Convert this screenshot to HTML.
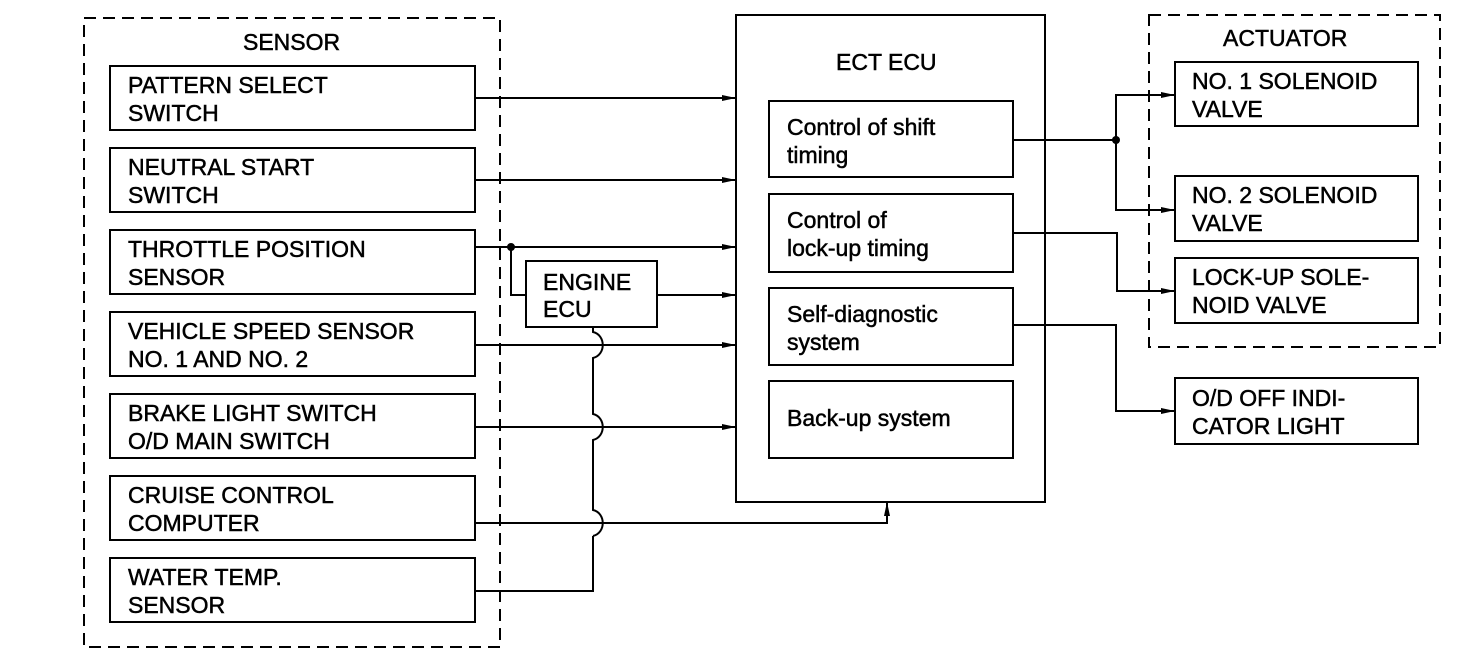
<!DOCTYPE html>
<html><head><meta charset="utf-8"><style>
html,body{margin:0;padding:0;background:#fff}
svg text{font-family:"Liberation Sans",Arial,sans-serif;font-size:23px;fill:#000;stroke:#000;stroke-width:0.5}
</style></head><body>
<svg width="1472" height="664" viewBox="0 0 1472 664" xmlns="http://www.w3.org/2000/svg">
<defs><marker id="a" markerWidth="14" markerHeight="8" refX="14" refY="4" orient="auto" markerUnits="userSpaceOnUse"><path d="M0,1 L14,4 L0,7 Z" fill="#000"/></marker></defs>
<g fill="none" stroke="#000" stroke-width="2">
<rect x="84" y="18" width="416" height="629" stroke-dasharray="12,7"/>
<rect x="1149" y="15" width="291" height="332" stroke-dasharray="12,7"/>
<rect x="110" y="66" width="365" height="64"/>
<rect x="110" y="148" width="365" height="64"/>
<rect x="110" y="230" width="365" height="64"/>
<rect x="110" y="312" width="365" height="64"/>
<rect x="110" y="394" width="365" height="64"/>
<rect x="110" y="476" width="365" height="64"/>
<rect x="110" y="558" width="365" height="64"/>
<rect x="526" y="261" width="131" height="66"/>
<rect x="736" y="15" width="309" height="487"/>
<rect x="769" y="101" width="244" height="76"/>
<rect x="769" y="194" width="244" height="78"/>
<rect x="769" y="288" width="244" height="77"/>
<rect x="769" y="381" width="244" height="77"/>
<rect x="1175" y="62" width="243" height="64"/>
<rect x="1175" y="176" width="243" height="65"/>
<rect x="1175" y="258" width="243" height="65"/>
<rect x="1175" y="378" width="243" height="66"/>
<!-- sensor lines -->
<line x1="475" y1="98" x2="736" y2="98" marker-end="url(#a)"/>
<line x1="475" y1="180" x2="736" y2="180" marker-end="url(#a)"/>
<line x1="475" y1="247" x2="736" y2="247" marker-end="url(#a)"/>
<polyline points="511,247 511,295 526,295"/>
<line x1="657" y1="295" x2="736" y2="295" marker-end="url(#a)"/>
<line x1="475" y1="345" x2="736" y2="345" marker-end="url(#a)"/>
<line x1="475" y1="427" x2="736" y2="427" marker-end="url(#a)"/>
<polyline points="475,523 887,523 887,502" marker-end="url(#a)"/>
<polyline points="475,591 593,591 593,536"/>
<path d="M593,536 C606,533 606,513 593,510 L593,440 C606,437 606,417 593,414 L593,358 C606,355 606,335 593,332 L593,327"/>
<!-- outputs -->
<polyline points="1013,140 1116,140"/>
<polyline points="1116,140 1116,95 1175,95" marker-end="url(#a)"/>
<polyline points="1116,140 1116,210 1175,210" marker-end="url(#a)"/>
<polyline points="1013,233 1117,233 1117,291 1175,291" marker-end="url(#a)"/>
<polyline points="1013,325 1116,325 1116,411 1175,411" marker-end="url(#a)"/>
</g>
<circle cx="511" cy="247" r="4"/>
<circle cx="1116" cy="140" r="4"/>
<text x="243" y="50">SENSOR</text>
<text x="128" y="93">PATTERN SELECT</text><text x="128" y="121">SWITCH</text>
<text x="128" y="175">NEUTRAL START</text><text x="128" y="203">SWITCH</text>
<text x="128" y="257">THROTTLE POSITION</text><text x="128" y="285">SENSOR</text>
<text x="128" y="339">VEHICLE SPEED SENSOR</text><text x="128" y="367">NO. 1 AND NO. 2</text>
<text x="128" y="421">BRAKE LIGHT SWITCH</text><text x="128" y="449">O/D MAIN SWITCH</text>
<text x="128" y="503">CRUISE CONTROL</text><text x="128" y="531">COMPUTER</text>
<text x="128" y="585">WATER TEMP.</text><text x="128" y="613">SENSOR</text>
<text x="543" y="290">ENGINE</text><text x="543" y="317">ECU</text>
<text x="836" y="70">ECT ECU</text>
<text x="787" y="135">Control of shift</text><text x="787" y="163">timing</text>
<text x="787" y="228">Control of</text><text x="787" y="256">lock-up timing</text>
<text x="787" y="322">Self-diagnostic</text><text x="787" y="350">system</text>
<text x="787" y="426">Back-up system</text>
<text x="1223" y="46">ACTUATOR</text>
<text x="1192" y="89">NO. 1 SOLENOID</text><text x="1192" y="117">VALVE</text>
<text x="1192" y="203">NO. 2 SOLENOID</text><text x="1192" y="231">VALVE</text>
<text x="1192" y="285">LOCK-UP SOLE-</text><text x="1192" y="313">NOID VALVE</text>
<text x="1192" y="406">O/D OFF INDI-</text><text x="1192" y="434">CATOR LIGHT</text>
</svg>
</body></html>
